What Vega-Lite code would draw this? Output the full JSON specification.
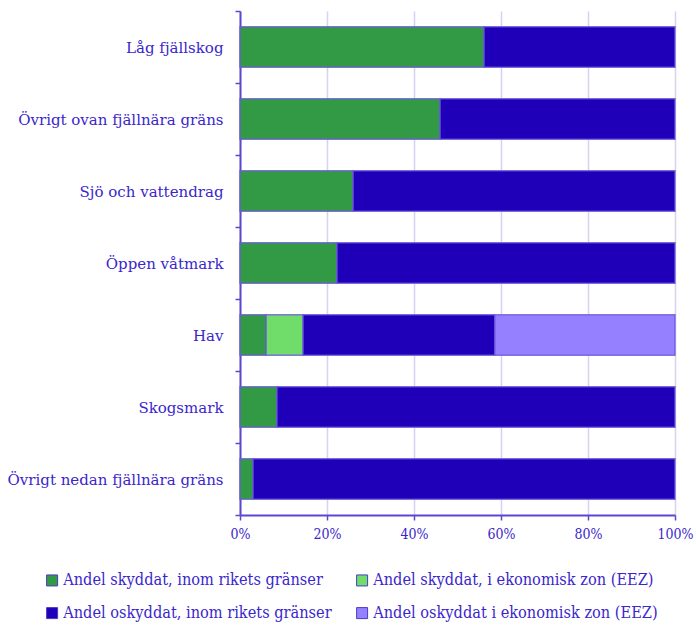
{
  "$schema": "https://vega.github.io/schema/vega-lite/v6.json",
  "width": 435,
  "height": 504,
  "autosize": "none",
  "padding": {"left": 240, "top": 11, "right": 21, "bottom": 111},
  "background": "white",
  "config": {
    "font": "DejaVu Serif",
    "view": {"stroke": null},
    "axis": {"labelColor": "#3a26cc", "labelFont": "DejaVu Serif", "domainColor": "#5a48d0", "tickColor": "#5a48d0", "domainWidth": 2, "tickWidth": 1.5, "title": null}
  },
  "data": {
    "values": [
      {"kategori": "Låg fjällskog", "serie": "Andel skyddat, inom rikets gränser", "andel": 56.1},
      {"kategori": "Låg fjällskog", "serie": "Andel oskyddat, inom rikets gränser", "andel": 43.9},
      {"kategori": "Övrigt ovan fjällnära gräns", "serie": "Andel skyddat, inom rikets gränser", "andel": 46.0},
      {"kategori": "Övrigt ovan fjällnära gräns", "serie": "Andel oskyddat, inom rikets gränser", "andel": 54.0},
      {"kategori": "Sjö och vattendrag", "serie": "Andel skyddat, inom rikets gränser", "andel": 26.0},
      {"kategori": "Sjö och vattendrag", "serie": "Andel oskyddat, inom rikets gränser", "andel": 74.0},
      {"kategori": "Öppen våtmark", "serie": "Andel skyddat, inom rikets gränser", "andel": 22.3},
      {"kategori": "Öppen våtmark", "serie": "Andel oskyddat, inom rikets gränser", "andel": 77.7},
      {"kategori": "Hav", "serie": "Andel skyddat, inom rikets gränser", "andel": 6.0},
      {"kategori": "Hav", "serie": "Andel skyddat, i ekonomisk zon (EEZ)", "andel": 8.5},
      {"kategori": "Hav", "serie": "Andel oskyddat, inom rikets gränser", "andel": 44.1},
      {"kategori": "Hav", "serie": "Andel oskyddat i ekonomisk zon (EEZ)", "andel": 41.4},
      {"kategori": "Skogsmark", "serie": "Andel skyddat, inom rikets gränser", "andel": 8.5},
      {"kategori": "Skogsmark", "serie": "Andel oskyddat, inom rikets gränser", "andel": 91.5},
      {"kategori": "Övrigt nedan fjällnära gräns", "serie": "Andel skyddat, inom rikets gränser", "andel": 3.0},
      {"kategori": "Övrigt nedan fjällnära gräns", "serie": "Andel oskyddat, inom rikets gränser", "andel": 97.0}
    ]
  },
  "mark": {"type": "bar", "height": {"band": 0.56}, "stroke": "#6a58dc", "strokeWidth": 1.5, "strokeOpacity": 0.8},
  "encoding": {
    "y": {
      "field": "kategori",
      "type": "nominal",
      "sort": ["Låg fjällskog", "Övrigt ovan fjällnära gräns", "Sjö och vattendrag", "Öppen våtmark", "Hav", "Skogsmark", "Övrigt nedan fjällnära gräns"],
      "scale": {"paddingInner": 0, "paddingOuter": 0},
      "axis": {"tickBand": "extent", "tickSize": 5, "labelPadding": 12, "labelFontSize": 15, "grid": false, "labelLimit": 240}
    },
    "x": {
      "field": "andel",
      "type": "quantitative",
      "stack": "normalize",
      "scale": {"domain": [0, 1]},
      "axis": {"format": ".0%", "values": [0, 0.2, 0.4, 0.6, 0.8, 1], "tickSize": 5, "labelFontSize": 14, "labelPadding": 7, "grid": true, "gridColor": "#d6d2f4", "gridWidth": 1.5, "labelFlush": false, "labelFont": "DejaVu Serif Condensed"}
    },
    "color": {
      "field": "serie",
      "type": "nominal",
      "scale": {
        "domain": ["Andel skyddat, inom rikets gränser", "Andel oskyddat, inom rikets gränser", "Andel skyddat, i ekonomisk zon (EEZ)", "Andel oskyddat i ekonomisk zon (EEZ)"],
        "range": ["#329945", "#1f00b8", "#70dc6a", "#9580ff"]
      },
      "legend": {
        "title": null,
        "orient": "none",
        "legendX": -196,
        "legendY": 561,
        "columns": 2,
        "columnPadding": 22,
        "rowPadding": 16,
        "symbolType": "square",
        "symbolSize": 121,
        "symbolStrokeColor": "#4a3ac8",
        "symbolStrokeWidth": 1,
        "labelFontSize": 16.2,
        "labelColor": "#3a26cc",
        "labelFont": "DejaVu Serif Condensed",
        "labelOffset": 3,
        "labelLimit": 320
      }
    },
    "order": {"field": "serie", "sort": "descending"}
  }
}
